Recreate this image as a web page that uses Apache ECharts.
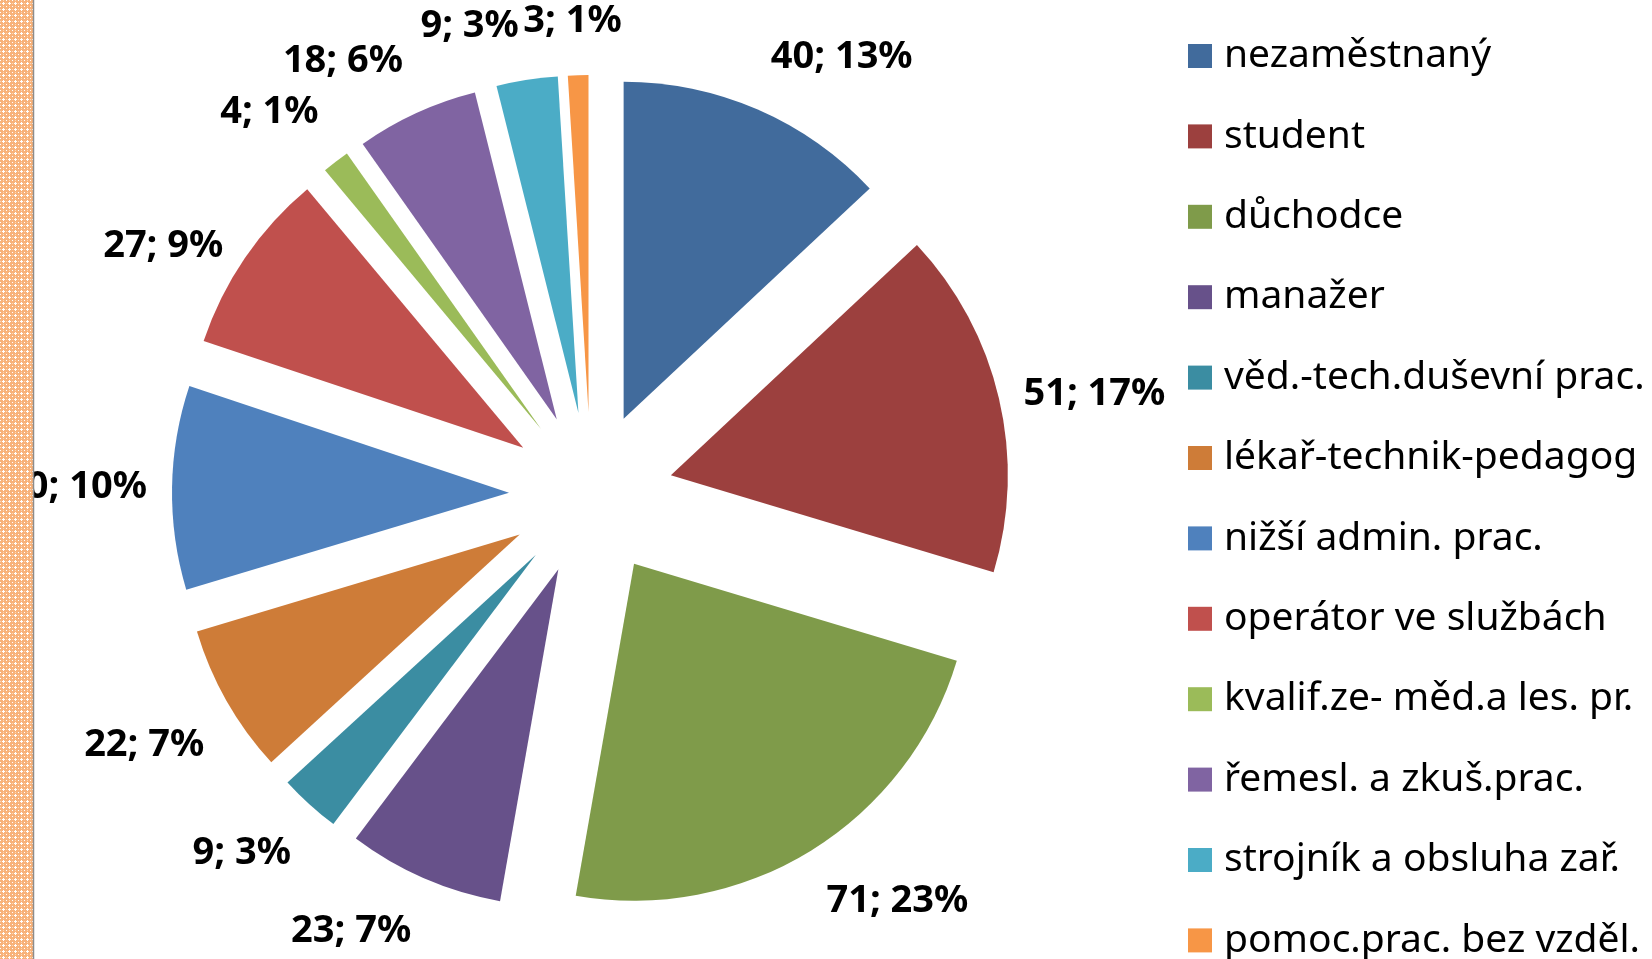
<!DOCTYPE html>
<html>
<head>
<meta charset="utf-8">
<script src="https://cdn.jsdelivr.net/npm/echarts@6/dist/echarts.min.js"></script>
<style>
  html, body { margin: 0; padding: 0; background: #fff; }
  #pie { width: 1652px; height: 959px; }
</style>
</head>
<body>
<div id="pie"></div>
<script>
const categories = ['nezaměstnaný', 'student', 'důchodce', 'manažer', 'věd.-tech.duševní prac.',
  'lékař-technik-pedagog', 'nižší admin. prac.', 'operátor ve službách', 'kvalif.ze- měd.a les. pr.',
  'řemesl. a zkuš.prac.', 'strojník a obsluha zař.', 'pomoc.prac. bez vzděl.'];
const counts = [40, 51, 71, 23, 9, 22, 30, 27, 4, 18, 9, 3];
const colors = ['#416B9C', '#9C403E', '#7F9B4A', '#67518A', '#3B8DA2', '#CE7C38',
  '#4F81BD', '#C0504D', '#9BBB59', '#8064A2', '#4BACC6', '#F79646'];

// little tile for the checkered strip on the left edge
const tile = document.createElement('canvas');
tile.width = 6; tile.height = 6;
const g = tile.getContext('2d');
g.fillStyle = '#F8B27A';
g.fillRect(0, 0, 6, 6);
g.fillStyle = '#FFFFFF';
g.fillRect(2, 3, 3, 1);
g.fillRect(3, 2, 1, 3);
g.fillRect(0, 0, 1, 1);
g.fillStyle = '#FCD8B8';
g.fillRect(0, 3, 1, 1);
g.fillRect(3, 0, 1, 1);

const pieCenter = [591, 494];
const chart = echarts.init(document.getElementById('pie'));

const option = {
  animation: false,
  color: colors,
  legend: {
    orient: 'vertical',
    left: 1188,
    top: 36,
    height: 940,
    padding: 0,
    icon: 'rect',
    itemWidth: 24,
    itemHeight: 24,
    itemGap: 40.4,
    itemTextGap: 14,
    textStyle: {
      fontFamily: 'Noto Sans',
      fontSize: 39,
      lineHeight: 40,
      padding: [0, 0, 0, 7],
      color: '#000'
    },
    data: categories
  },
  graphic: [
    {
      type: 'rect',
      z: 100,
      shape: { x: 0, y: 0, width: 33, height: 959 },
      style: { fill: { image: tile, repeat: 'repeat' } }
    },
    {
      type: 'line',
      z: 101,
      shape: { x1: 33.5, y1: 0, x2: 33.5, y2: 959 },
      style: { stroke: '#8C8C8C', lineWidth: 1.5 }
    }
  ],
  series: [{
    type: 'pie',
    center: pieCenter,
    radius: [0, 337],
    startAngle: 90,
    selectedMode: 'multiple',
    selectedOffset: 82,
    avoidLabelOverlap: false,
    percentPrecision: 0,
    emphasis: { disabled: true },
    label: {
      show: true,
      position: 'outside',
      formatter: '{c}; {d}%',
      fontFamily: 'Noto Sans',
      fontWeight: 'bold',
      fontSize: 38,
      lineHeight: 68,
      color: '#000'
    },
    labelLine: { show: false, length: 20, length2: 0 },
    // labels above the pie sit on their anchor, labels below hang from it,
    // a label right at 12 o'clock is centred over its slice
    labelLayout: function (p) {
      const r = p.labelRect;
      const cy = r.y + r.height / 2;
      const res = {};
      if (cy < 230) res.verticalAlign = 'bottom';
      if (cy > 650) res.verticalAlign = 'top';
      if (cy < 230 && Math.abs(r.x + r.width - pieCenter[0]) < 20) res.align = 'center';
      return res;
    },
    data: categories.map((name, i) => ({ name: name, value: counts[i], selected: true }))
  }]
};

chart.setOption(option);
</script>
</body>
</html>
